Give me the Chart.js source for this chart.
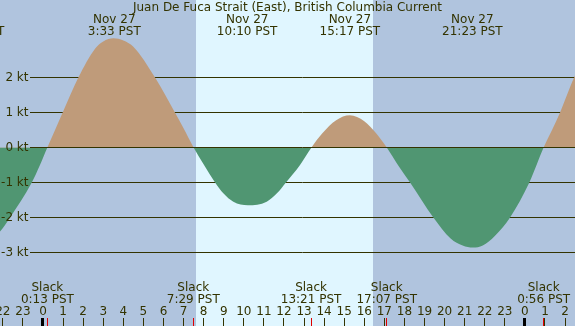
<!DOCTYPE html>
<html>
<head>
    <title>Juan De Fuca Strait (East) current</title>
    <style>
        body { margin: 0; background: #b0c4de; }
        #chart { display: block; }
    </style>
    <script src="https://cdn.jsdelivr.net/npm/chart.js"></script>
</head>
<body>
    <canvas id="chart" width="575" height="326"></canvas>

    <script>
        // Current speed (kt), hours from midnight Nov 27
        const hours  = [-3.44, -2.14, -1.64, -0.56, -0.15, 0.217, 0.6, 0.98, 1.76, 2.6, 3.0, 3.51, 4.0, 4.5, 5.58, 6.57, 7.0, 7.5,
                        8.02, 8.57, 8.98, 9.48, 10.2, 11.14, 11.65, 12.1, 12.8, 13.37,
                        13.9, 14.6, 15.28, 16.0, 16.6, 17.12,
                        17.7, 18.28, 19.44, 20.3, 20.9, 21.41, 21.9, 22.5, 23.26, 24.22, 24.6, 24.93,
                        25.35, 25.75, 26.45, 27.2, 28.3];
        const speeds = [-2.9, -2.4, -2.0, -1.0, -0.5, 0, 0.5, 1, 2, 2.83, 3.03, 3.12, 3.06, 2.88, 2, 1, 0.55, 0,
                        -0.5, -1, -1.31, -1.55, -1.65, -1.55, -1.31, -1, -0.5, 0,
                        0.4, 0.78, 0.92, 0.75, 0.4, 0,
                        -0.52, -1, -2, -2.6, -2.8, -2.86, -2.8, -2.53, -2, -1, -0.47, 0,
                        0.5, 1, 2, 2.8, 3.2];

        // Events
        const slackHours  = [0.217, 7.483, 13.35, 17.117, 24.933];
        const slackLabels = ['0:13 PST', '7:29 PST', '13:21 PST', '17:07 PST', '0:56 PST'];
        const maxHours    = [-3.44, 3.55, 10.167, 15.283, 21.383];
        const maxDates    = ['Nov 26', 'Nov 27', 'Nov 27', 'Nov 27', 'Nov 27'];
        const maxLabels   = ['20:34 PST', '3:33 PST', '10:10 PST', '15:17 PST', '21:23 PST'];

        const sunrise = 7.62;
        const sunset = 16.43;
        const yTicks = [2, 1, 0, -1, -2, -3];
        const hourTicks = [];
        for (let h = -2; h <= 26; h++) hourTicks.push(h);

        const title = 'Juan De Fuca Strait (East), British Columbia Current';

        const fg = '#333300';
        const nightColor = '#b0c4de';
        const dayColor = '#e0f6ff';
        const floodColor = '#bf9b7a';
        const ebbColor = '#509672';
        const font = "12px 'DejaVu Sans'";

        const tidePlugin = {
            id: 'tide',
            beforeDatasetsDraw(chart) {
                const { ctx, scales: { x, y } } = chart;
                ctx.save();
                ctx.fillStyle = nightColor;
                ctx.fillRect(0, 0, chart.width, chart.height);
                const x1 = x.getPixelForValue(sunrise);
                const x2 = x.getPixelForValue(sunset);
                ctx.fillStyle = dayColor;
                ctx.fillRect(Math.round(x1), 0, Math.round(x2) - Math.round(x1), chart.height);

                // grid lines sit under the fills, except the 0 line
                ctx.strokeStyle = fg;
                ctx.lineWidth = 1;
                yTicks.forEach(v => {
                    if (v === 0) return;
                    const py = Math.floor(y.getPixelForValue(v)) + 0.5;
                    ctx.beginPath();
                    ctx.moveTo(30, py);
                    ctx.lineTo(chart.width, py);
                    ctx.stroke();
                });
                ctx.restore();
            },
            afterDatasetsDraw(chart) {
                const { ctx, scales: { x, y } } = chart;
                const W = chart.width;
                ctx.save();
                ctx.strokeStyle = fg;
                ctx.lineWidth = 1;
                const p0 = Math.floor(y.getPixelForValue(0)) + 0.5;
                ctx.beginPath();
                ctx.moveTo(30, p0);
                ctx.lineTo(W, p0);
                ctx.stroke();

                ctx.font = font;
                ctx.fillStyle = fg;
                ctx.textBaseline = 'middle';

                // y labels
                ctx.textAlign = 'right';
                yTicks.forEach(v => {
                    ctx.fillText(v + ' kt', 28.5, Math.floor(y.getPixelForValue(v)) + 0.5);
                });

                // title and max current labels
                ctx.textAlign = 'center';
                ctx.fillText(title, W / 2, 8);
                maxHours.forEach((h, i) => {
                    const px = x.getPixelForValue(h);
                    ctx.fillText(maxDates[i], px, 19.5);
                    ctx.fillText(maxLabels[i], px, 31.5);
                });

                // slack labels
                slackHours.forEach((h, i) => {
                    const px = x.getPixelForValue(h);
                    ctx.fillText('Slack', px, 287.5);
                    ctx.fillText(slackLabels[i], px, 299.5);
                });

                // hour labels and ticks
                hourTicks.forEach(h => {
                    const px = x.getPixelForValue(h);
                    const hh = ((h % 24) + 24) % 24;
                    ctx.fillStyle = fg;
                    ctx.fillText(String(hh), px, 311.5);
                    if (hh === 0) {
                        ctx.fillStyle = '#000000';
                        ctx.fillRect(Math.round(px) - 2, 318, 3, 8);
                    } else {
                        ctx.beginPath();
                        ctx.moveTo(Math.floor(px) + 0.5, 318);
                        ctx.lineTo(Math.floor(px) + 0.5, 326);
                        ctx.stroke();
                    }
                });
                ctx.strokeStyle = '#e00000';
                slackHours.forEach(h => {
                    const px = Math.floor(x.getPixelForValue(h)) + 0.5;
                    ctx.beginPath();
                    ctx.moveTo(px, 318);
                    ctx.lineTo(px, 326);
                    ctx.stroke();
                });
                ctx.restore();
            }
        };

        const ctx = document.getElementById('chart').getContext('2d');
        new Chart(ctx, {
            type: 'line',
            data: {
                datasets: [{
                    data: hours.map((h, i) => ({ x: h, y: speeds[i] })),
                    borderColor: 'transparent',
                    borderWidth: 0,
                    pointRadius: 0,
                    cubicInterpolationMode: 'monotone',
                    fill: { target: 'origin', above: floodColor, below: ebbColor }
                }]
            },
            options: {
                responsive: false,
                animation: false,
                layout: { padding: 0 },
                plugins: { legend: { display: false }, tooltip: { enabled: false } },
                scales: {
                    x: { type: 'linear', display: false, min: -43 / 20.08, max: 532 / 20.08 },
                    y: { display: false, min: -178.5 / 35, max: 147.5 / 35 }
                }
            },
            plugins: [tidePlugin]
        });
    </script>
</body>
</html>
